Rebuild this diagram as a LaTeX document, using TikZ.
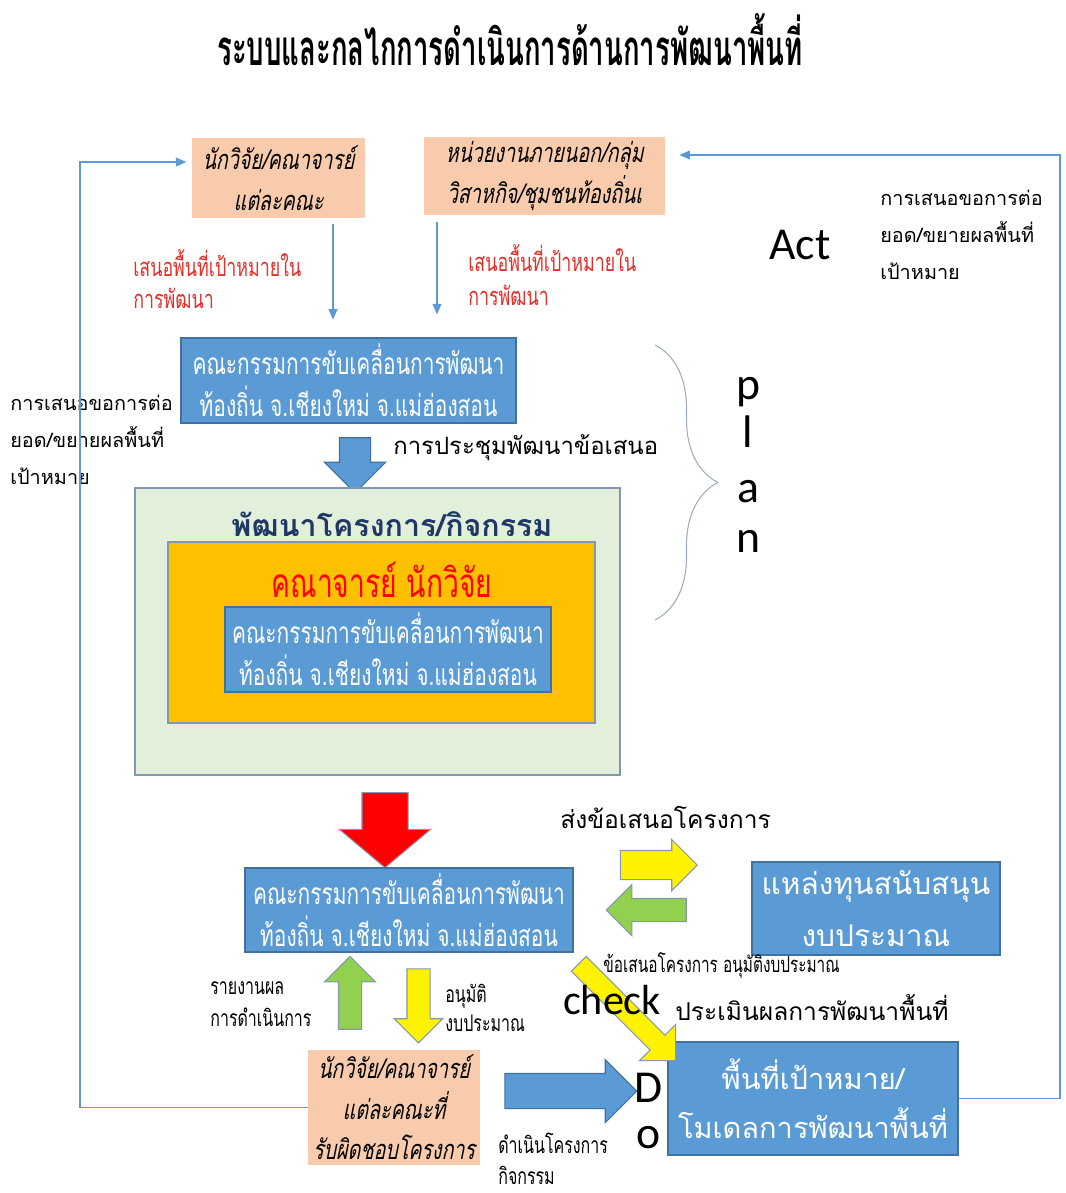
\documentclass[tikz,border=0pt]{standalone}
\usepackage{fontspec}
\usetikzlibrary{shapes.arrows,arrows.meta,decorations.pathreplacing,calc}
\newfontfamily\thai[Script=Thai]{Loma}
\newfontfamily\thaicond[Script=Thai,FakeStretch=0.7]{Loma}
\newfontfamily\thaititle[Script=Thai,FakeStretch=0.56]{Loma}
\newfontfamily\thaiit[Script=Thai,FakeStretch=0.72,FakeSlant=0.2]{Loma}
\newfontfamily\latin{Carlito}

\definecolor{peach}{RGB}{248,203,173}
\definecolor{boxblue}{RGB}{91,155,213}
\definecolor{boxedge}{RGB}{65,113,156}
\definecolor{palegreen}{RGB}{226,239,218}
\definecolor{amber}{RGB}{255,192,0}
\definecolor{navy}{RGB}{31,56,100}
\definecolor{textred}{RGB}{230,45,40}
\definecolor{leafgreen}{RGB}{146,208,80}
\definecolor{edgegray}{RGB}{132,151,176}

\tikzset{
  peachbox/.style={fill=peach, inner sep=0pt, align=center,
    font=\thaiit\fontsize{15.5}{23}\selectfont},
  bluebox/.style={fill=boxblue, draw=boxedge, line width=0.8pt, text=white,
    align=center, inner sep=0pt},
  comtext/.style={font=\thaicond\fontsize{17}{24}\selectfont},
  lbl/.style={anchor=west, align=left, inner sep=0pt},
  link/.style={draw=boxblue, line width=0.7pt, -{Triangle[length=6pt,width=5pt]}},
  blk/.style={single arrow, single arrow tip angle=90, single arrow head indent=0pt,
    inner xsep=0pt, draw=edgegray, line width=0.6pt},
  big/.style={font=\latin\fontsize{26}{30}\selectfont, inner sep=0pt},
}

\begin{document}
\begin{tikzpicture}[x=0.02cm,y=-0.02cm]
\useasboundingbox (0,0) rectangle (1065,1193);

% title
\node[font=\thaititle\bfseries\fontsize{28}{32}\selectfont] (title) at (510,40)
  {ระบบและกลไกการดำเนินการด้านการพัฒนาพื้นที่};

% proposers
\node[peachbox, minimum width=3.46cm, minimum height=1.6cm] (resA) at (278.5,178)
  {นักวิจัย/คณาจารย์\\แต่ละคณะ};
\node[peachbox, minimum width=4.82cm, minimum height=1.56cm] (extB) at (544.5,176)
  {หน่วยงานภายนอก/กลุ่ม\\วิสาหกิจ/ชุมชนท้องถิ่นเ};

\node[lbl, text=textred, font=\thaicond\fontsize{14.5}{18}\selectfont] (propA) at (133,279)
  {เสนอพื้นที่เป้าหมายใน\\การพัฒนา};
\node[lbl, text=textred, font=\thaicond\fontsize{14.5}{19}\selectfont] (propB) at (468,275)
  {เสนอพื้นที่เป้าหมายใน\\การพัฒนา};

% committee
\node[bluebox, comtext, minimum width=6.7cm, minimum height=1.7cm] (comC) at (348.5,380.5)
  {คณะกรรมการขับเคลื่อนการพัฒนา\\ท้องถิ่น จ.เชียงใหม่ จ.แม่ฮ่องสอน};

\coordinate (dropA) at (333,0);
\coordinate (dropB) at (437,0);
\draw[link, shorten <=3pt, shorten >=10pt] (resA.south -| dropA) -- (comC.north -| dropA);
\draw[link, shorten <=4pt, shorten >=13pt] (extB.south -| dropB) -- (comC.north -| dropB);

\node[blk, fill=boxblue, draw=boxedge, rotate=-90, minimum height=1.1cm, inner ysep=0.3cm,
  single arrow head extend=0.3cm] (meetArrow) at (355,457.5) {};
\node[lbl, font=\thai\fontsize{13.6}{18}\selectfont] (meetLbl) at (393,448)
  {การประชุมพัฒนาข้อเสนอ};

\node[lbl, font=\thai\fontsize{11.3}{21}\selectfont] (leftTxt) at (10,440)
  {การเสนอขอการต่อ\\ยอด/ขยายผลพื้นที่\\เป้าหมาย};

% plan
\node[fill=palegreen, draw=edgegray, line width=0.8pt, minimum width=9.7cm,
  minimum height=5.74cm] (devBox) at (377.5,631.5) {};
\node[text=navy, font=\thai\bfseries\fontsize{17.3}{22}\selectfont] (devTitle) at (392,524)
  {พัฒนาโครงการ/กิจกรรม};
\node[fill=amber, draw=edgegray, line width=0.8pt, minimum width=8.54cm,
  minimum height=3.62cm] (facBox) at (381.5,632.5) {};
\node[text=red, font=\thaicond\fontsize{23}{26}\selectfont] (facLbl) at (382,580)
  {คณาจารย์ นักวิจัย};
\node[bluebox, comtext, minimum width=6.52cm, minimum height=1.7cm] (comIn) at (388,649.5)
  {คณะกรรมการขับเคลื่อนการพัฒนา\\ท้องถิ่น จ.เชียงใหม่ จ.แม่ฮ่องสอน};

\draw[draw=edgegray!80, line width=0.6pt, decorate, decoration={brace, amplitude=1.26cm}]
  (655,345) -- (655,620);
\node[big] (planP) at (748,392) {p};
\node[big] (planL) at (748,432) {l};
\node[big] (planA) at (748,492) {a};
\node[big] (planN) at (748,541) {n};

% act
\node[big] (act) at (800,245) {Act};
\node[lbl, font=\thai\fontsize{11.3}{21}\selectfont] (actTxt) at (880,235)
  {การเสนอขอการต่อ\\ยอด/ขยายผลพื้นที่\\เป้าหมาย};

% do
\node[blk, fill=red, rotate=-90, single arrow tip angle=100, minimum height=1.5cm,
  inner ysep=0.45cm, single arrow head extend=0.45cm] (redArrow) at (385,820.5) {};
\node[bluebox, comtext, minimum width=6.56cm, minimum height=1.68cm] (comE) at (409,910)
  {คณะกรรมการขับเคลื่อนการพัฒนา\\ท้องถิ่น จ.เชียงใหม่ จ.แม่ฮ่องสอน};

\node[lbl, font=\thai\fontsize{14}{18}\selectfont] (sendLbl) at (560,817)
  {ส่งข้อเสนอโครงการ};
\node[blk, fill=yellow, minimum height=1.54cm, inner ysep=0.28cm,
  single arrow head extend=0.22cm] (sendArrow) at (651.5,865) {};
\node[blk, fill=leafgreen, rotate=180, minimum height=1.6cm, inner ysep=0.22cm,
  single arrow head extend=0.28cm] (backArrow) at (652,910) {};
\node[bluebox, font=\thai\fontsize{17}{30}\selectfont, minimum width=4.96cm,
  minimum height=1.86cm] (fundF) at (876,908.5) {แหล่งทุนสนับสนุน\\งบประมาณ};
\node[lbl, font=\thaicond\fontsize{12.5}{14}\selectfont] (noteLbl) at (603,965)
  {ข้อเสนอโครงการ อนุมัติงบประมาณ};

\node[blk, fill=leafgreen, rotate=90, minimum height=1.46cm, inner ysep=0.22cm,
  single arrow head extend=0.28cm] (upArrow) at (350,998.5) {};
\node[blk, fill=yellow, rotate=-90, minimum height=1.48cm, inner ysep=0.22cm,
  single arrow head extend=0.25cm] (downArrow) at (418.5,1000) {};
\node[lbl, font=\thaicond\fontsize{13}{18}\selectfont] (reportLbl) at (210,1004)
  {รายงานผล\\การดำเนินการ};
\node[lbl, font=\thaicond\fontsize{13}{16.5}\selectfont] (approveLbl) at (445,1008)
  {อนุมัติ\\งบประมาณ};

\node[peachbox, minimum width=3.44cm, minimum height=2.3cm] (respG) at (394,1107.5)
  {นักวิจัย/คณาจารย์\\แต่ละคณะที่\\รับผิดชอบโครงการ};
\node[blk, fill=boxblue, draw=boxedge, minimum height=2.64cm, inner ysep=0.34cm,
  single arrow head extend=0.28cm] (doArrow) at (562,1091) {};
\node[big] (doD) at (649,1088) {D};
\node[big] (doO) at (649,1138) {o};
\node[lbl, font=\thaicond\fontsize{13}{17.5}\selectfont] (runLbl) at (498,1159)
  {ดำเนินโครงการ\\กิจกรรม};

\node[bluebox, font=\thai\fontsize{16.5}{28}\selectfont, minimum width=5.8cm,
  minimum height=2.26cm] (areaH) at (813,1098.5) {พื้นที่เป้าหมาย/\\โมเดลการพัฒนาพื้นที่};

% check
\node[blk, fill=yellow, rotate=-45, minimum height=2.74cm, inner ysep=0.2cm,
  single arrow head extend=0.3cm] (diagArrow) at (623.5,1008.5) {};
\node[font=\latin\fontsize{24}{28}\selectfont, inner sep=0pt] (checkLbl) at (612,1000) {check};
\node[lbl, font=\thai\fontsize{14}{18}\selectfont] (evalLbl) at (675,1008)
  {ประเมินผลการพัฒนาพื้นที่};

% feedback loops
\coordinate (loopL) at (80,600);
\coordinate (loopR) at (1060,600);
\draw[link, shorten >=3pt] (respG.west) -| (loopL) |- ($(resA.west)+(0,-16)$);
\draw[link, shorten >=8pt] (areaH.east) -| (loopR) |- ($(extB.east)+(0,-21)$);

\end{tikzpicture}
\end{document}
